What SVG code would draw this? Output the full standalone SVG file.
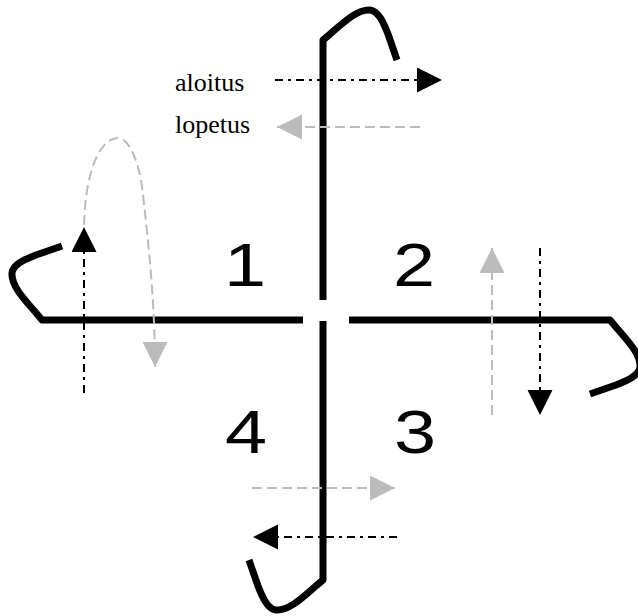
<svg xmlns="http://www.w3.org/2000/svg" width="638" height="616" viewBox="0 0 638 616">
<style>
.arm{fill:none;stroke:#000;stroke-width:7;stroke-linejoin:round;stroke-linecap:butt}
.dd{fill:none;stroke:#000;stroke-width:2;stroke-dasharray:8 5 3 5}
.gd{fill:none;stroke:#bbb;stroke-width:2;stroke-dasharray:10 5}
.num{font-family:"Liberation Sans",Arial,sans-serif;font-size:62px;fill:#000}
.lbl{font-family:"Liberation Serif","Times New Roman",serif;font-size:26px;fill:#000}
</style>
<defs>
<marker id="hb" markerUnits="userSpaceOnUse" markerWidth="26" markerHeight="26" refX="25" refY="12.5" orient="auto"><path d="M0,0 L25,12.5 L0,25 Z" fill="#000" stroke="none"/></marker>
<marker id="hg" markerUnits="userSpaceOnUse" markerWidth="26" markerHeight="26" refX="25" refY="12.5" orient="auto"><path d="M0,0 L25,12.5 L0,25 Z" fill="#bbb" stroke="none"/></marker>
</defs>
<g id="arms">
<g id="arm-top" transform="translate(323,40)"><path class="arm" d="M0,260 V0 L6,-5 C20,-17 34,-31 47,-30 C56,-29 61,-16 65,-6 L74,20"/></g>
<g id="arm-right" transform="translate(610,320) rotate(90)"><path class="arm" d="M0,261 V0 L6,-5 C20,-17 34,-31 47,-30 C56,-29 61,-16 65,-6 L74,20"/></g>
<g id="arm-bottom" transform="translate(323,580) rotate(180)"><path class="arm" d="M0,259 V0 L6,-5 C20,-17 34,-31 47,-30 C56,-29 61,-16 65,-6 L74,20"/></g>
<g id="arm-left" transform="translate(42,320) rotate(270)"><path class="arm" d="M0,261 V0 L6,-5 C20,-17 34,-31 47,-30 C56,-29 61,-16 65,-6 L74,20"/></g>
</g>
<g id="numbers">
<text class="num" transform="translate(224,286) scale(1.22,1)">1</text>
<text class="num" transform="translate(393,286) scale(1.22,1)">2</text>
<text class="num" transform="translate(394,453) scale(1.22,1)">3</text>
<text class="num" transform="translate(225,453) scale(1.22,1)">4</text>
</g>
<g id="legend">
<text class="lbl" x="175" y="91">aloitus</text>
<text class="lbl" x="175" y="133">lopetus</text>
</g>
<g id="connectors">
<path class="dd" d="M275,80 L442,80" marker-end="url(#hb)"/>
<path class="gd" d="M420,127 L277,127" marker-end="url(#hg)"/>
<path class="gd" d="M84,225 C86,160 104,138 118,138 C130,138 140,165 143,195 C145,215 155,290 155,367" marker-end="url(#hg)"/>
<path class="dd" d="M84,393 L84,227" marker-end="url(#hb)"/>
<path class="gd" d="M492,415 L492,248" marker-end="url(#hg)"/>
<path class="dd" d="M540,248 L540,415" marker-end="url(#hb)"/>
<path class="gd" d="M252,488 L395,488" marker-end="url(#hg)"/>
<path class="dd" d="M397,537 L253,537" marker-end="url(#hb)"/>
</g>
</svg>
